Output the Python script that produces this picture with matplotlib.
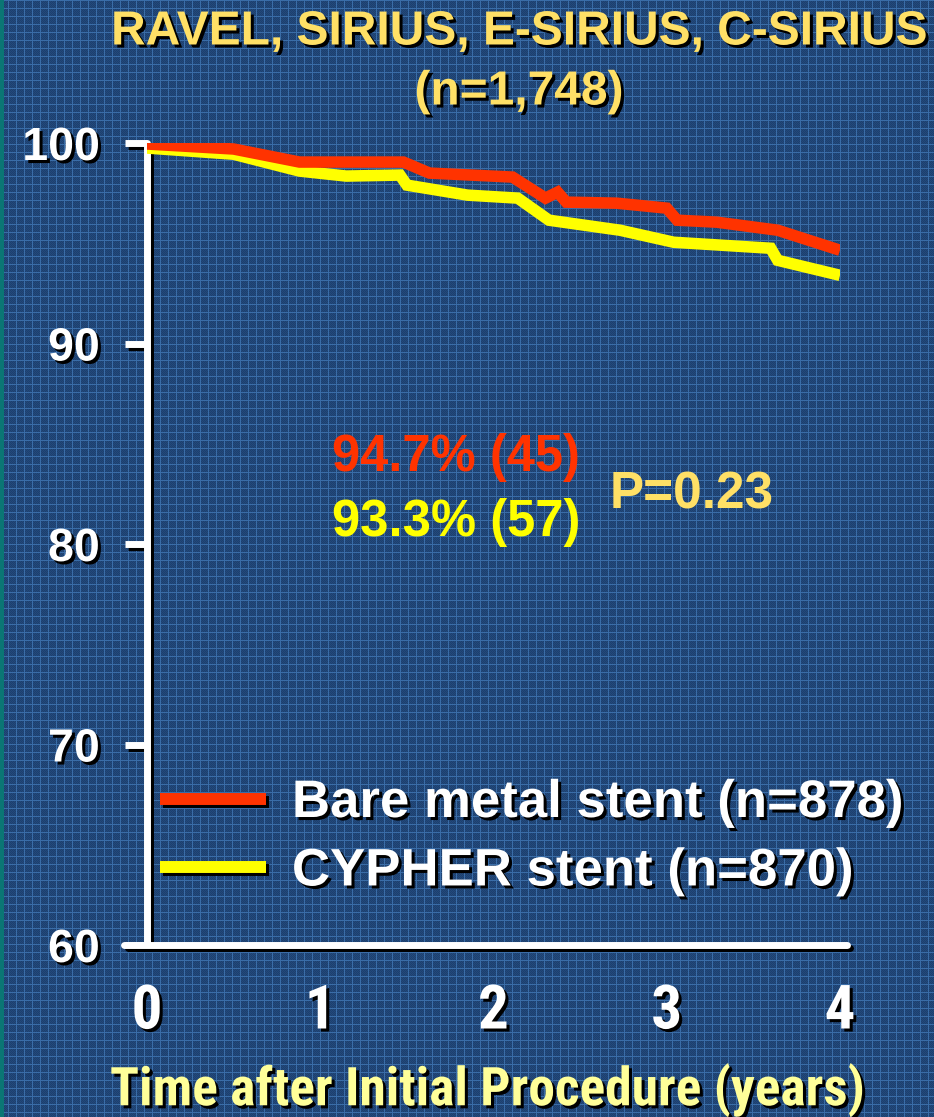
import numpy as np
import matplotlib
matplotlib.use("Agg")
import matplotlib.pyplot as plt
import matplotlib.patheffects as pe
from matplotlib.lines import Line2D

# ---------------- data ----------------
bms_years = [0.0, 0.5, 0.88, 1.48, 1.63, 2.11, 2.30, 2.37, 2.42, 2.71, 3.00, 3.06, 3.29, 3.64, 4.0]
bms_surv = [99.95, 99.7, 99.05, 99.05, 98.5, 98.3, 97.25, 97.55, 97.05, 97.0, 96.75, 96.15, 96.05, 95.65, 94.65]
cyp_years = [0.0, 0.5, 0.88, 1.15, 1.46, 1.50, 1.85, 2.14, 2.32, 2.73, 3.04, 3.60, 3.64, 4.0]
cyp_surv = [99.75, 99.44, 98.6, 98.35, 98.4, 97.9, 97.4, 97.25, 96.15, 95.65, 95.05, 94.75, 94.15, 93.4]
series_labels = ["Bare metal stent (n=878)", "CYPHER stent (n=870)"]
x_ticks = [0, 1, 2, 3, 4]
y_ticks = [60, 70, 80, 90, 100]
title_lines = ["RAVEL, SIRIUS, E-SIRIUS, C-SIRIUS", "(n=1,748)"]
xlabel = "Time after Initial Procedure (years)"
annot_bms = "94.7% (45)"
annot_cyp = "93.3% (57)"
annot_p = "P=0.23"

RED = "#FF3300"
YEL = "#FFFF00"
TITLE_C = "#FFE066"
XLAB_C = "#FFFF99"
ARIAL = ["Liberation Sans", "DejaVu Sans"]
NARROW = ["Roboto Condensed", "Liberation Sans", "DejaVu Sans"]

W, H = 934, 1117
fig = plt.figure(figsize=(W / 100, H / 100), dpi=100)

# textured blue background
bg = np.empty((H, W, 3), dtype=float)
bg[:] = np.array([0x23, 0x4a, 0x7c]) / 255
yy, xx = np.mgrid[0:H, 0:W]
dots = ((xx + yy) % 2 == 0)
bg[dots] = np.array([0x1d, 0x3f, 0x6e]) / 255
gl = (xx % 8 == 0) | (yy % 8 == 0)
bg[gl] = np.array([0x3a, 0x6d, 0xa8]) / 255
bg[:, 0:4] = np.array([0x0b, 0x76, 0x74]) / 255
fig.figimage(bg, xo=0, yo=0, origin="upper", zorder=-10)

shadow = [pe.withSimplePatchShadow(offset=(2.2, -2.2), shadow_rgbFace="black", alpha=1.0)]
line_shadow = [pe.SimpleLineShadow(offset=(2.2, -2.2), shadow_color="black", alpha=1.0), pe.Normal()]

ax = fig.add_axes([147 / W, 1 - 945 / H, (840 - 147) / W, (945 - 143) / H])
ax.set_facecolor("none")
ax.set_xlim(0, 4)
ax.set_ylim(60, 100)

ax.plot(cyp_years, cyp_surv, color=YEL, lw=8.3, solid_joinstyle="miter", solid_capstyle="butt", zorder=3)
ax.plot(bms_years, bms_surv, color=RED, lw=8.3, solid_joinstyle="miter", solid_capstyle="butt", zorder=4)

for s in ["top", "right"]:
    ax.spines[s].set_visible(False)
for s in ["left", "bottom"]:
    ax.spines[s].set_color("white")
    ax.spines[s].set_linewidth(5)
    ax.spines[s].set_capstyle("round")
    ax.spines[s].set_path_effects(line_shadow)
ax.spines["bottom"].set_bounds(-0.13, 4.04)

ax.set_yticks(y_ticks)
ax.set_yticklabels([str(v) for v in y_ticks])
ax.set_xticks(x_ticks)
ax.set_xticklabels([str(v) for v in x_ticks])
ax.tick_params(axis="y", direction="out", length=16, width=5, color="white", pad=18,
               labelsize=33.5, labelcolor="white")
ax.tick_params(axis="x", length=0, pad=27, labelsize=44, labelcolor="white")
for t in ax.yaxis.get_major_ticks():
    t.tick1line.set_path_effects(line_shadow)
for lab in ax.get_yticklabels():
    lab.set_fontfamily(ARIAL)
    lab.set_fontweight("bold")
    lab.set_path_effects(shadow)
for lab in ax.get_xticklabels():
    lab.set_fontfamily(NARROW)
    lab.set_fontweight("bold")
    lab.set_path_effects(shadow)

# titles
fig.text(519 / W, 1 - 32 / H, title_lines[0], ha="center", va="center", fontsize=34.5,
         fontweight="bold", family=ARIAL, color=TITLE_C, path_effects=shadow)
fig.text(519 / W, 1 - 92 / H, title_lines[1], ha="center", va="center", fontsize=34.5,
         fontweight="bold", family=ARIAL, color=TITLE_C, path_effects=shadow)
fig.text(488 / W, 1 - 1090 / H, xlabel, ha="center", va="center", fontsize=38.5,
         fontweight="bold", family=NARROW, color=XLAB_C, path_effects=shadow)

# annotations
ax.text(1.068, 84.3, annot_bms, ha="left", va="center", fontsize=36.5, fontweight="bold",
        family=ARIAL, color=RED)
ax.text(1.068, 81.05, annot_cyp, ha="left", va="center", fontsize=36.5, fontweight="bold",
        family=ARIAL, color=YEL)
ax.text(2.672, 82.45, annot_p, ha="left", va="center", fontsize=37, fontweight="bold",
        family=ARIAL, color=TITLE_C)

# legend
handles = [Line2D([], [], color=RED, lw=8.6, solid_capstyle="butt"),
           Line2D([], [], color=YEL, lw=8.6, solid_capstyle="butt")]
leg = ax.legend(handles, series_labels, loc="upper left",
                bbox_to_anchor=(160 / W, 1 - 778 / H), bbox_transform=fig.transFigure,
                frameon=False, borderpad=0, borderaxespad=0, handlelength=2.0,
                handletextpad=0.5, labelspacing=0.35,
                prop={"family": ARIAL, "weight": "bold", "size": 38})
for t in leg.get_texts():
    t.set_color("white")
    t.set_path_effects(shadow)
for l in leg.get_lines():
    l.set_path_effects(line_shadow)

fig.savefig("out.png", dpi=100)
